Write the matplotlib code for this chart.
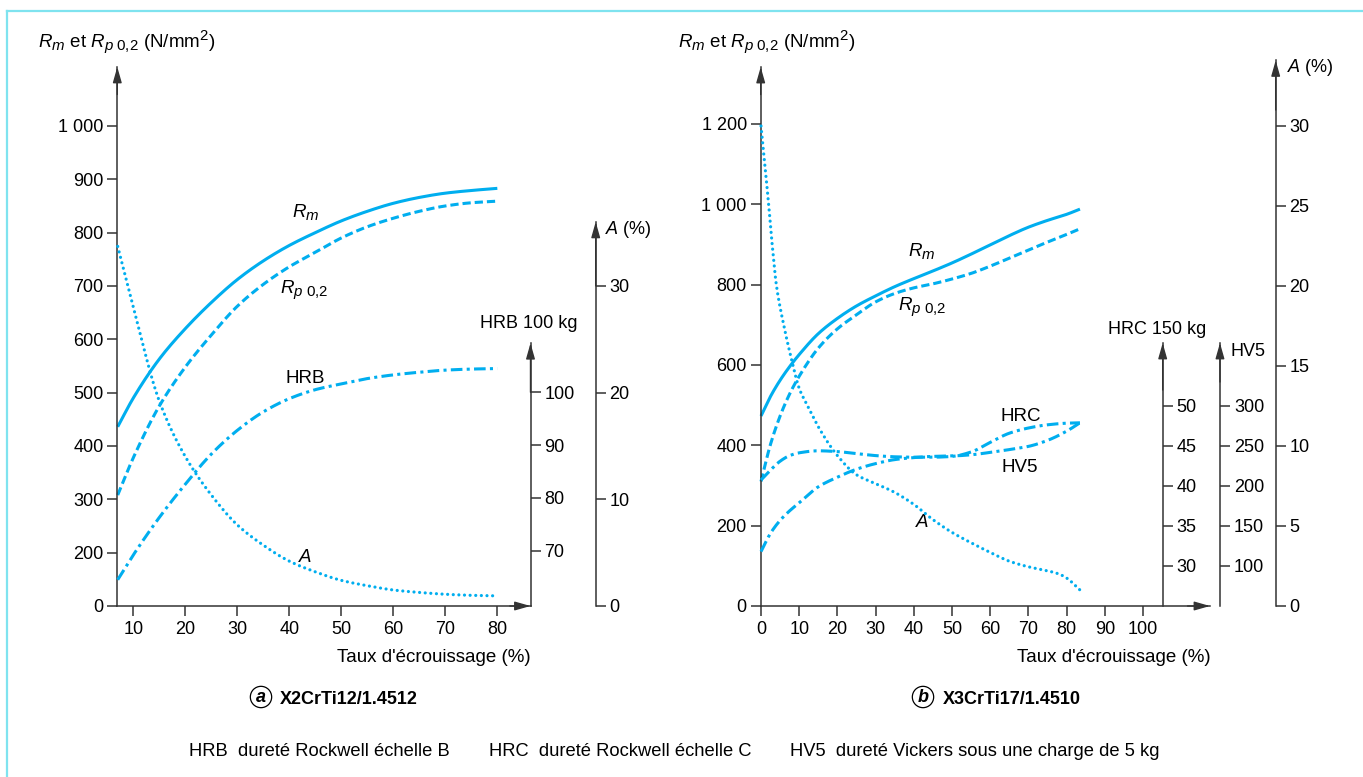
import numpy as np
import matplotlib
matplotlib.use("Agg")
import matplotlib.pyplot as plt
import matplotlib._mathtext as _mt

# slightly larger sub/superscripts in mathtext labels
_mt.SHRINK_FACTOR = 0.8

plt.rcParams["font.family"] = ["Liberation Sans", "DejaVu Sans"]
plt.rcParams["mathtext.fontset"] = "custom"
plt.rcParams["mathtext.rm"] = "Liberation Sans"
plt.rcParams["mathtext.it"] = "Liberation Sans:italic"
plt.rcParams["mathtext.bf"] = "Liberation Sans:bold"

# ---------------- (a) X2CrTi12/1.4512 ----------------
a_x = [7, 10, 15, 20, 25, 30, 35, 40, 45, 50, 55, 60, 65, 70, 75, 80]
a_rm = [436, 490, 563, 620, 669, 712, 747, 776, 800, 822, 840, 855, 866, 874, 879, 883]
a_rp = [308, 378, 475, 548, 608, 662, 703, 736, 763, 790, 811, 827, 840, 850, 856, 859]
a_hrb = [64.5, 69.2, 76.3, 82.6, 88.3, 92.8, 96.3, 98.8, 100.5, 101.6, 102.6,
         103.3, 103.8, 104.2, 104.4, 104.5]
a_elong = [33.7, 28.0, 19.2, 14.0, 10.4, 7.6, 5.7, 4.2, 3.2, 2.4, 1.9, 1.5,
           1.27, 1.1, 1.0, 0.95]

a_xticks = [10, 20, 30, 40, 50, 60, 70, 80]
a_yticks = [100, 200, 300, 400, 500, 600, 700, 800, 900, 1000]
a_yticklabels = ["0", "200", "300", "400", "500", "600", "700", "800", "900", "1 000"]
a_hrb_ticks = [70, 80, 90, 100]
a_elong_ticks = [0, 10, 20, 30]

# ---------------- (b) X3CrTi17/1.4510 ----------------
b_x = [0, 2.5, 5, 7.5, 10, 15, 20, 25, 30, 35, 40, 45, 50, 55, 60, 65, 70, 75, 80, 83.5]
b_rm = [473, 522, 562, 596, 626, 678, 716, 747, 772, 795, 815, 834, 854, 876,
        899, 922, 943, 960, 975, 988]
b_rp = [310, 403, 473, 528, 572, 642, 690, 725, 757, 778, 792, 802, 814, 828,
        846, 866, 886, 906, 925, 939]
b_hrc = [40.75, 42.0, 43.1, 43.8, 44.15, 44.4, 44.3, 44.05, 43.8, 43.65, 43.6,
         43.6, 43.7, 44.25, 45.45, 46.6, 47.25, 47.65, 47.85, 47.9]
b_hv5 = [118, 141, 157, 169, 179, 199, 211, 221, 228, 233, 235.5, 237, 237.5,
         239, 242, 245.5, 249.5, 257, 268.5, 279]
b_ax = [0, 1, 2, 3, 4, 6, 8, 10, 12, 15, 20, 25, 30, 35, 40, 45, 50, 55, 60,
        65, 70, 75, 78, 80, 83.5]
b_elong = [30, 27.6, 25.1, 22.4, 20.1, 17.5, 15.4, 13.6, 12.6, 11.2, 9.4, 8.2,
           7.65, 7.1, 6.35, 5.4, 4.6, 3.95, 3.35, 2.8, 2.45, 2.2, 2.0, 1.75, 1.0]

b_xticks = [0, 10, 20, 30, 40, 50, 60, 70, 80, 90, 100]
b_yticks = [0, 200, 400, 600, 800, 1000, 1200]
b_yticklabels = ["0", "200", "400", "600", "800", "1 000", "1 200"]
b_hrc_ticks = [30, 35, 40, 45, 50]
b_hv5_ticks = [100, 150, 200, 250, 300]
b_elong_ticks = [0, 5, 10, 15, 20, 25, 30]

# ---------------- figure setup ----------------
W, H = 1363, 777
fig = plt.figure(figsize=(W / 100, H / 100), dpi=100)
fig.patch.set_facecolor("white")

CYAN = "#00aeef"
INK = "#333333"
FS = 13
LFS = 13.5
LW = 2.2

SOLID = "-"
DASHED = (0, (2.7, 1.3))
DASHDOT = (0, (3.8, 1.4, 1.0, 1.4))
DOTTED = (0, (0.01, 1.75))


def fx(px):
    return px / W


def fy(py):
    return 1 - py / H


def smooth(x, y, n=400):
    """Monotone cubic (PCHIP) curve through the given points."""
    x = np.asarray(x, float)
    y = np.asarray(y, float)
    h = np.diff(x)
    d = np.diff(y) / h
    m = np.zeros_like(y)
    m[0], m[-1] = d[0], d[-1]
    for k in range(1, len(x) - 1):
        if d[k - 1] * d[k] > 0:
            w1 = 2 * h[k] + h[k - 1]
            w2 = h[k] + 2 * h[k - 1]
            m[k] = (w1 + w2) / (w1 / d[k - 1] + w2 / d[k])
    xs = np.linspace(x[0], x[-1], n)
    i = np.clip(np.searchsorted(x, xs) - 1, 0, len(h) - 1)
    t = (xs - x[i]) / h[i]
    h00 = 2 * t**3 - 3 * t**2 + 1
    h10 = t**3 - 2 * t**2 + t
    h01 = -2 * t**3 + 3 * t**2
    h11 = t**3 - t**2
    ys = h00 * y[i] + h10 * h[i] * m[i] + h01 * y[i + 1] + h11 * h[i] * m[i + 1]
    return xs, ys


def curve(ax, x, y, ls):
    xs, ys = smooth(x, y)
    ln, = ax.plot(xs, ys, color=CYAN, lw=LW, linestyle=ls, clip_on=False,
                  solid_capstyle="butt")
    if ls == DOTTED:
        ln.set_linewidth(2.3)
        ln.set_dash_capstyle("round")


def head(ax, xy, xytext, coords):
    ax.annotate("", xy=xy, xytext=xytext, xycoords=coords, textcoords=coords,
                annotation_clip=False,
                arrowprops=dict(arrowstyle="-|>,head_length=0.95,head_width=0.27",
                                mutation_scale=10, lw=1.0, color=INK,
                                shrinkA=0, shrinkB=0))


def main_axes(rect_px, xlim, ylim, ytip):
    l, r, b, t = rect_px
    ax = fig.add_axes([fx(l), fy(b), (r - l) / W, (b - t) / H])
    ax.set_xlim(*xlim)
    ax.set_ylim(*ylim)
    ax.patch.set_visible(False)
    ax.spines["top"].set_visible(False)
    ax.spines["right"].set_visible(False)
    for s in ("left", "bottom"):
        ax.spines[s].set_color(INK)
        ax.spines[s].set_linewidth(1.1)
    ax.spines["left"].set_bounds(ylim[0], ytip)
    ax.spines["bottom"].set_bounds(*xlim)
    ax.tick_params(axis="both", direction="out", length=7.5, width=1.1,
                   color=INK, labelsize=FS, labelcolor="black")
    ax.tick_params(axis="y", pad=2.5)
    ax.tick_params(axis="x", pad=3.5)
    head(ax, (0, ytip), (0, ytip - (ylim[1] - ylim[0]) * 0.05),
         ("axes fraction", "data"))
    head(ax, (1, 0), (0.95, 0), "axes fraction")
    return ax


def side_axis(host, pos, ylim, bounds, ticks):
    ax = host.twinx()
    ax.set_ylim(*ylim)
    for s in ("top", "left", "bottom"):
        ax.spines[s].set_visible(False)
    sp = ax.spines["right"]
    sp.set_position(("axes", pos))
    sp.set_bounds(*bounds)
    sp.set_color(INK)
    sp.set_linewidth(1.1)
    ax.set_yticks(ticks)
    ax.tick_params(axis="y", direction="out", length=7.5, width=1.1, color=INK,
                   labelsize=FS, pad=2.5)
    return ax


# ======================= panel (a) =======================
ax1 = main_axes((117.3, 530.5, 606, 55), (6.92, 86.38), (100, 1133), 1110.6)
ax1.set_xticks(a_xticks)
ax1.set_yticks(a_yticks)
ax1.set_yticklabels(a_yticklabels)

ax1_hrb = side_axis(ax1, 1.0, (59.53, 163.88), (59.53, 109.3), a_hrb_ticks)
ax1_el = side_axis(ax1, 1.1578, (0, 51.64), (0, 36.0), a_elong_ticks)
head(ax1_hrb, (1.0, 109.3), (1.0, 100), ("axes fraction", "data"))
head(ax1_el, (1.1578, 36.0), (1.1578, 30), ("axes fraction", "data"))

curve(ax1, a_x, a_rm, SOLID)
curve(ax1, a_x, a_rp, DASHED)
curve(ax1_hrb, a_x, a_hrb, DASHDOT)
curve(ax1_el, a_x, a_elong, DOTTED)

ax1.text(40.46, 830, r"$R_m$", fontsize=LFS, ha="left", va="baseline")
ax1.text(38.2, 687, r"$R_{p\ \mathrm{0{,}2}}$", fontsize=LFS, ha="left", va="baseline")
ax1.text(39.2, 519, "HRB", fontsize=LFS, ha="left", va="baseline")
ax1.text(41.7, 183, r"$A$", fontsize=LFS, ha="left", va="baseline")

# ======================= panel (b) =======================
ax2 = main_axes((760.7, 1210, 606, 55), (-0.08, 117.54), (0, 1371.7), 1341.8)
ax2.set_xticks(b_xticks)
ax2.set_yticks(b_yticks)
ax2.set_yticklabels(b_yticklabels)

ax2_hrc = side_axis(ax2, 0.8947, (25, 93.875), (25, 57.875), b_hrc_ticks)
ax2_hv = side_axis(ax2, 1.0222, (50, 738.75), (50, 378.75), b_hv5_ticks)
ax2_el = side_axis(ax2, 1.1462, (0, 34.4375), (0, 34.1), b_elong_ticks)
head(ax2_hrc, (0.8947, 57.875), (0.8947, 52), ("axes fraction", "data"))
head(ax2_hv, (1.0222, 378.75), (1.0222, 330), ("axes fraction", "data"))
head(ax2_el, (1.1462, 34.1), (1.1462, 31), ("axes fraction", "data"))

curve(ax2, b_x, b_rm, SOLID)
curve(ax2, b_x, b_rp, DASHED)
curve(ax2_hrc, b_x, b_hrc, DASHDOT)
curve(ax2_hv, b_x, b_hv5, DASHDOT)
curve(ax2_el, b_ax, b_elong, DOTTED)

ax2.text(38.6, 871, r"$R_m$", fontsize=LFS, ha="left", va="baseline")
ax2.text(35.9, 738, r"$R_{p\ \mathrm{0{,}2}}$", fontsize=LFS, ha="left", va="baseline")
ax2.text(62.6, 461, "HRC", fontsize=LFS, ha="left", va="baseline")
ax2.text(63.0, 333, "HV5", fontsize=LFS, ha="left", va="baseline")
ax2.text(40.3, 196, r"$A$", fontsize=LFS, ha="left", va="baseline")

# ======================= axis titles =======================
ytitle = r"$R_m$ et $R_{p\ \mathrm{0{,}2}}$ (N/mm$^2$)"
fig.text(fx(38), fy(48.5), ytitle, fontsize=13.5, ha="left", va="baseline")
fig.text(fx(678), fy(48.5), ytitle, fontsize=13.5, ha="left", va="baseline")

fig.text(fx(531), fy(661.5), "Taux d'écrouissage (%)", fontsize=13.5, ha="right", va="baseline")
fig.text(fx(1211), fy(661.5), "Taux d'écrouissage (%)", fontsize=13.5, ha="right", va="baseline")

fig.text(fx(529), fy(328.5), "HRB 100 kg", fontsize=FS, ha="center", va="baseline")
fig.text(fx(605), fy(234), r"$A$ (%)", fontsize=FS, ha="left", va="baseline")
fig.text(fx(1157), fy(334), "HRC 150 kg", fontsize=FS, ha="center", va="baseline")
fig.text(fx(1230), fy(356), "HV5", fontsize=FS, ha="left", va="baseline")
fig.text(fx(1287), fy(71.5), r"$A$ (%)", fontsize=FS, ha="left", va="baseline")

# ======================= panel captions =======================
circ = dict(boxstyle="circle,pad=0.12", fc="white", ec="black", lw=0.9)
fig.text(fx(261), fy(697), "a", fontsize=13, fontweight="bold", fontstyle="italic",
         ha="center", va="center", bbox=circ)
fig.text(fx(280), fy(703.5), "X2CrTi12/1.4512", fontsize=13, fontweight="bold",
         ha="left", va="baseline")
fig.text(fx(923), fy(697), "b", fontsize=13, fontweight="bold", fontstyle="italic",
         ha="center", va="center", bbox=circ)
fig.text(fx(943), fy(703.5), "X3CrTi17/1.4510", fontsize=13, fontweight="bold",
         ha="left", va="baseline")

# ======================= footnote =======================
fig.text(fx(189), fy(756), "HRB  dureté Rockwell échelle B", fontsize=13.2, ha="left", va="baseline")
fig.text(fx(489), fy(756), "HRC  dureté Rockwell échelle C", fontsize=13.2, ha="left", va="baseline")
fig.text(fx(790), fy(756), "HV5  dureté Vickers sous une charge de 5 kg", fontsize=13.2,
         ha="left", va="baseline")

# ======================= frame =======================
frame_col = "#7fe3ef"
fig.add_artist(plt.Line2D([fx(7), fx(7)], [fy(11), 0], color=frame_col, lw=1.6))
fig.add_artist(plt.Line2D([fx(7), 1], [fy(11), fy(11)], color=frame_col, lw=1.6))

fig.savefig("out.png", dpi=100)
